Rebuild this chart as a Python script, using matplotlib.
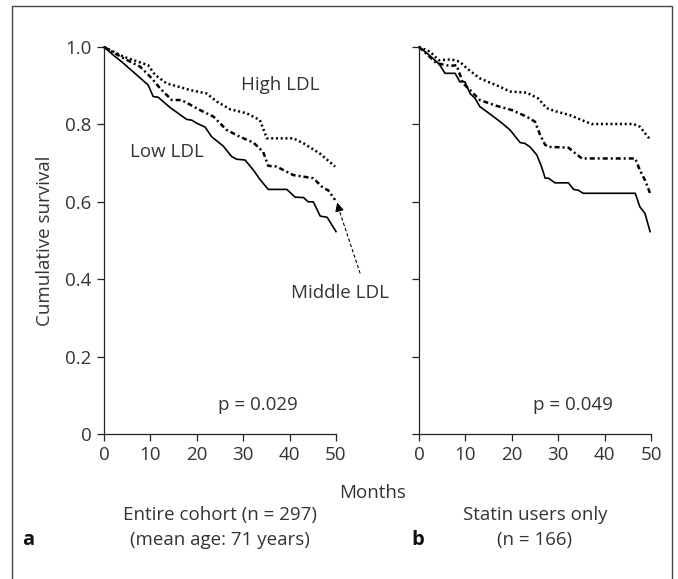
import matplotlib
matplotlib.use("Agg")
import matplotlib.pyplot as plt
from matplotlib.patches import Rectangle

plt.rcParams['font.family'] = ['Open Sans', 'DejaVu Sans']

# panel a - entire cohort
a_low_x = [0, 2, 3.8, 9.5, 10.6, 11.7, 14.2, 17.8, 18.9, 20, 21.8, 23.2, 25.7, 27.5, 28.6, 30.4,
           32.2, 33.6, 35.4, 39.4, 41.2, 43, 44, 45.1, 46.6, 48.1, 50]
a_low_y = [1.0, 0.979, 0.962, 0.902, 0.872, 0.870, 0.844, 0.813, 0.811, 0.803, 0.793, 0.768, 0.744,
           0.717, 0.710, 0.708, 0.682, 0.658, 0.632, 0.632, 0.612, 0.611, 0.600, 0.600, 0.563, 0.560, 0.523]
a_high_x = [0, 4.2, 9.5, 11, 13.5, 18.5, 22.1, 24.3, 27.2, 30.7, 33.6, 35.1, 40.8, 43, 46.5, 49.8]
a_high_y = [1.0, 0.975, 0.953, 0.928, 0.906, 0.889, 0.880, 0.859, 0.839, 0.829, 0.811, 0.764,
            0.764, 0.751, 0.725, 0.691]
a_mid_x = [0, 4.2, 7.8, 10.3, 12.1, 14.6, 16.7, 20.7, 23.6, 26.4, 29.3, 32.2, 34.3, 35.4, 37.2,
           40.8, 45.1, 47.3, 48.3, 49.8]
a_mid_y = [1.0, 0.971, 0.949, 0.919, 0.893, 0.863, 0.863, 0.837, 0.820, 0.786, 0.768, 0.753,
           0.729, 0.693, 0.691, 0.669, 0.661, 0.635, 0.630, 0.605]

# panel b - statin users only
b_low_x = [0, 1.7, 3.8, 4.5, 5.6, 7.8, 8.8, 9.9, 11, 12.1, 13.1, 14.6, 17.5, 19.6, 21.8, 22.8,
           23.9, 25.4, 26.4, 27.2, 27.9, 29.3, 32.2, 33.3, 34.3, 35.4, 46.6, 47.6, 48.7, 49.8]
b_low_y = [1.0, 0.984, 0.962, 0.953, 0.932, 0.932, 0.910, 0.910, 0.880, 0.867, 0.846, 0.833,
           0.807, 0.786, 0.753, 0.751, 0.742, 0.721, 0.691, 0.661, 0.661, 0.649, 0.649, 0.632,
           0.630, 0.622, 0.622, 0.587, 0.570, 0.523]
b_high_x = [0, 2.4, 4.2, 7, 8.8, 10.3, 13.1, 17.5, 19.6, 23.2, 25.7, 27.5, 29.7, 32.5, 35.1,
            37.2, 46.2, 47.6, 49.6]
b_high_y = [1.0, 0.988, 0.966, 0.968, 0.962, 0.945, 0.919, 0.897, 0.885, 0.882, 0.867, 0.842,
            0.833, 0.824, 0.811, 0.801, 0.801, 0.794, 0.764]
b_mid_x = [0, 3.8, 6.7, 8.1, 9.5, 11, 13.1, 16.7, 20, 23.2, 25, 26.1, 27.2, 27.9, 32.2, 33.3,
           35.1, 46.6, 47.6, 48.7, 49.8]
b_mid_y = [1.0, 0.958, 0.951, 0.953, 0.906, 0.889, 0.863, 0.848, 0.837, 0.820, 0.807, 0.773,
           0.747, 0.742, 0.740, 0.729, 0.712, 0.712, 0.682, 0.656, 0.622]

p_values = ['p = 0.029', 'p = 0.049']
titles = [('Entire cohort (n = 297)', '(mean age: 71 years)'), ('Statin users only', '(n = 166)')]
panel_letters = ['a', 'b']

txt = '#333333'
fs = 13.5
W, H = 678, 579
fig = plt.figure(figsize=(W / 100, H / 100), dpi=100)

# outer frame (bottom edge runs off the image)
fig.patches.append(Rectangle((12 / W, -0.2), 660 / W, 1.2 - 6 / H, transform=fig.transFigure,
                             fill=False, lw=1.0, ec='#444444'))

axA = fig.add_axes([104 / W, 1 - 434 / H, 232 / W, 387 / H])
axB = fig.add_axes([419 / W, 1 - 434 / H, 232 / W, 387 / H])

panels = [(axA, a_low_x, a_low_y, a_high_x, a_high_y, a_mid_x, a_mid_y),
          (axB, b_low_x, b_low_y, b_high_x, b_high_y, b_mid_x, b_mid_y)]

for i, (ax, lx, ly, hx, hy, mx, my) in enumerate(panels):
    ax.plot(lx, ly, color='black', lw=1.2, ls='-', clip_on=False)
    ax.plot(hx, hy, color='black', lw=1.8, ls=(0, (0.8, 1.1)), clip_on=False)
    ax.plot(mx, my, color='black', lw=1.8, ls=(0, (2.0, 1.2, 0.8, 1.2)), clip_on=False)
    ax.set_xlim(0, 50)
    ax.set_ylim(0, 1)
    for s in ['top', 'right']:
        ax.spines[s].set_visible(False)
    for s in ['left', 'bottom']:
        ax.spines[s].set_color('#222222')
        ax.spines[s].set_linewidth(0.9)
    ax.set_xticks([0, 10, 20, 30, 40, 50])
    ax.set_yticks([0, 0.2, 0.4, 0.6, 0.8, 1.0])
    ax.tick_params(direction='out', length=5, width=0.9, color='#222222',
                   labelsize=fs, labelcolor=txt, pad=4)
    if i == 0:
        ax.set_yticklabels(['0', '0.2', '0.4', '0.6', '0.8', '1.0'])
    else:
        ax.set_yticklabels([])
    ax.text(33.2, 0.075, p_values[i], ha='center', va='center', fontsize=fs, color=txt)

axA.text(37.9, 0.902, 'High LDL', ha='center', va='center', fontsize=fs, color=txt)
axA.text(13.5, 0.729, 'Low LDL', ha='center', va='center', fontsize=fs, color=txt)
axA.text(50.8, 0.364, 'Middle LDL', ha='center', va='center', fontsize=fs, color=txt)

# dashed pointer to the middle curve
axA.plot([55.2, 50.5], [0.415, 0.585], color='black', lw=0.8, ls=(0, (3, 2)), clip_on=False)
axA.annotate('', xy=(50.1, 0.605), xytext=(50.6, 0.583), annotation_clip=False,
             arrowprops=dict(arrowstyle='-|>', color='black', lw=0.8, mutation_scale=13))

axA.set_ylabel('Cumulative survival', fontsize=fs, color=txt, labelpad=8)

fig.text(373 / W, 1 - 493 / H, 'Months', ha='center', va='center', fontsize=fs, color=txt)
fig.text(220 / W, 1 - 515 / H, titles[0][0], ha='center', va='center', fontsize=fs, color=txt)
fig.text(220 / W, 1 - 540 / H, titles[0][1], ha='center', va='center', fontsize=fs, color=txt)
fig.text(535 / W, 1 - 515 / H, titles[1][0], ha='center', va='center', fontsize=fs, color=txt)
fig.text(535 / W, 1 - 540 / H, titles[1][1], ha='center', va='center', fontsize=fs, color=txt)
fig.text(28 / W, 1 - 540 / H, panel_letters[0], ha='center', va='center', fontsize=14.5,
         fontweight='bold', color='#111111')
fig.text(418 / W, 1 - 540 / H, panel_letters[1], ha='center', va='center', fontsize=14.5,
         fontweight='bold', color='#111111')

fig.savefig('out.png', dpi=100)
